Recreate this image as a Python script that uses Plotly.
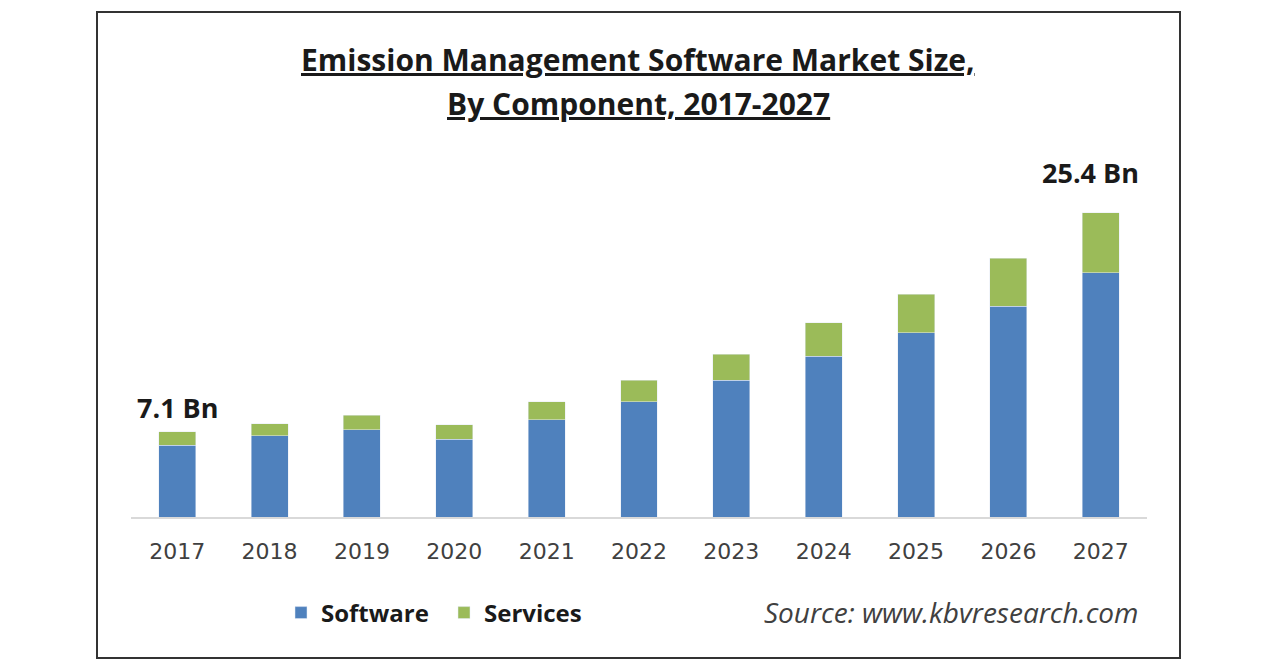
import plotly.graph_objects as go

years = [2017, 2018, 2019, 2020, 2021, 2022, 2023, 2024, 2025, 2026, 2027]
software = [6.0, 6.8, 7.3, 6.5, 8.1, 9.6, 11.4, 13.4, 15.4, 17.6, 20.4]
services = [1.1, 1.0, 1.2, 1.2, 1.5, 1.8, 2.2, 2.8, 3.2, 4.0, 5.0]
totals = [round(a + b, 1) for a, b in zip(software, services)]

# page has an 8px body margin, so the figure is drawn 8px in from the window edge
OFF = 8
W, H = 1280 - 2 * OFF, 670 - 2 * OFF
L, R, T, B = 131 - OFF, W - (1147 - OFF), 150 - OFF, H - (517 - OFF)
pw, ph = W - L - R, H - T - B

def px_x(x):
    # page pixel -> paper coordinate
    return (x - OFF - L) / pw

def px_y(y):
    return (H - B - (y - OFF)) / ph

font = "Open Sans"

fig = go.Figure()
fig.add_trace(go.Bar(x=years, y=software, name="Software", marker_color="#4F81BD"))
fig.add_trace(go.Bar(x=years, y=services, name="Services", marker_color="#9BBB59"))

# total labels on the first and last bars
fig.add_annotation(x=years[0], y=totals[0], text=f"<b>{totals[0]:.1f} Bn</b>", showarrow=False,
                   yanchor="bottom", yshift=4, xshift=0, font=dict(size=27, color="#1a1a1a", family=font))
fig.add_annotation(x=years[-1], y=totals[-1], text=f"<b>{totals[-1]:.1f} Bn</b>", showarrow=False,
                   yanchor="bottom", yshift=20, xshift=-10, font=dict(size=27, color="#1a1a1a", family=font))

# title, two underlined lines
for txt, yy in [("Emission Management Software Market Size,", 60), ("By Component, 2017-2027", 103)]:
    fig.add_annotation(xref="paper", yref="paper", x=px_x(638), y=px_y(yy), xanchor="center", yanchor="middle",
                       text=f"<b><u>{txt}</u></b>", showarrow=False,
                       font=dict(size=30, color="#1a1a1a", family=font))

fig.add_annotation(xref="paper", yref="paper", x=px_x(1141), y=px_y(612), xanchor="right", yanchor="middle",
                   text="<i>Source: www.kbvresearch.com</i>", showarrow=False,
                   font=dict(size=28, color="#404040", family=font))

# outer frame
fig.add_shape(type="rect", xref="paper", yref="paper", x0=px_x(97), x1=px_x(1180), y0=px_y(658), y1=px_y(12),
              line=dict(color="#333333", width=2), layer="below")

fig.update_layout(
    width=W, height=H, margin=dict(l=L, r=R, t=T, b=B),
    barmode="stack", bargap=0.6,
    paper_bgcolor="white", plot_bgcolor="white",
    legend=dict(orientation="h", x=px_x(281), y=px_y(613), xanchor="left", yanchor="middle",
                font=dict(size=24, color="#1a1a1a", family=font, weight="bold"),
                traceorder="normal", itemwidth=30, entrywidth=118, entrywidthmode="pixels"),
    showlegend=True,
)
fig.update_xaxes(tickmode="array", tickvals=years, ticktext=[str(y) for y in years],
                 range=[years[0] - 0.5, years[-1] + 0.5],
                 showline=True, linecolor="#D9D9D9", linewidth=2, ticks="", showgrid=False, zeroline=False,
                 tickfont=dict(size=22, color="#404040", family="DejaVu Sans"), ticklabelstandoff=14)
fig.update_yaxes(visible=False, range=[0, ph / 11.98], showgrid=False)

fig.write_html("out.html")
